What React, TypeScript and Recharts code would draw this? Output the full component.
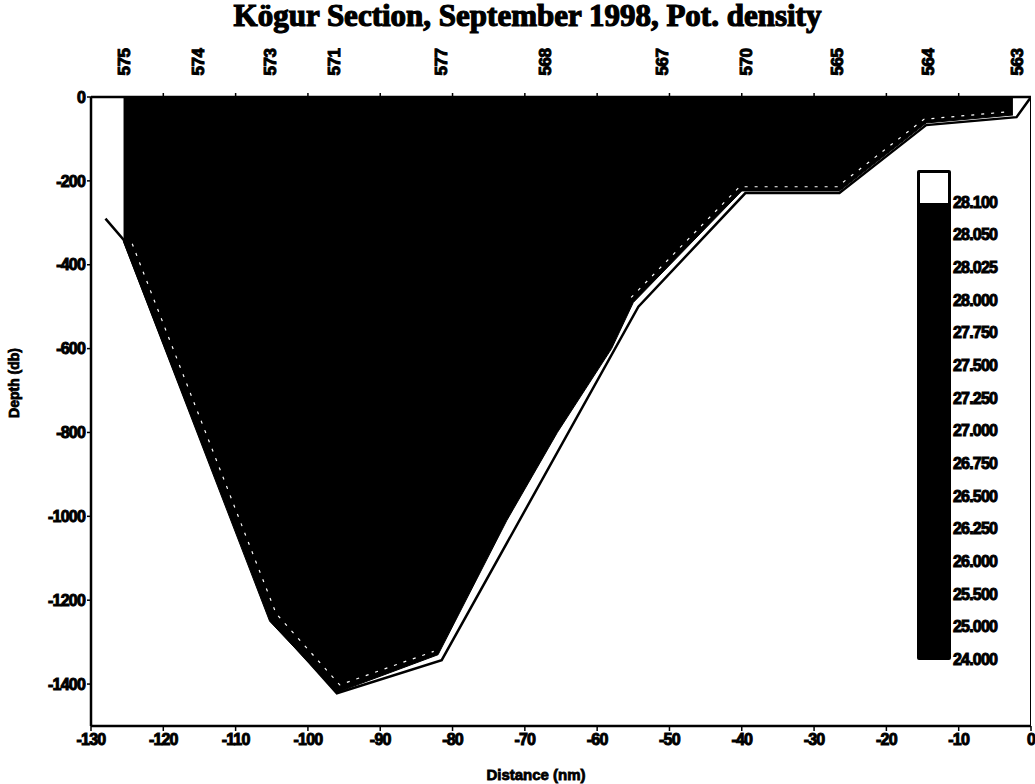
import React from 'react';
import { ComposedChart, Area, Line, XAxis, YAxis, Legend, Label } from 'recharts';

const TITLE = 'Kögur Section, September 1998, Pot. density';
const X_LABEL = 'Distance (nm)';
const Y_LABEL = 'Depth (db)';

const xTicks = [-130, -120, -110, -100, -90, -80, -70, -60, -50, -40, -30, -20, -10, 0];
const yTicks = [0, -200, -400, -600, -800, -1000, -1200, -1400];

const stationNames = ['575', '574', '573', '571', '577', '568', '567', '570', '565', '564', '563'];
const stationDist = [-125.3, -115.2, -105.2, -96.3, -81.5, -67.2, -51.0, -39.3, -26.8, -14.2, -1.9];
const topMinorTicks = [-120, -110, -100, -90, -80, -70, -60, -50, -40, -30, -20, -10];

// sea floor line
const bottomDist = [-128, -125.5, -105, -96, -81.5, -54.3, -39.5, -26.5, -14.5, -2, 0];
const bottomDepth = [-290, -340, -1248, -1422, -1343, -500, -229, -229, -67, -48, 0];

// filled contour region (density class)
const fillDist = [-125.5, -105.3, -96, -82, -72.5, -65.5, -58, -55, -40, -26.5, -14.5, -2.5];
const fillDepth = [-345, -1250, -1420, -1330, -1010, -800, -600, -490, -224, -224, -62, -43];

// contour line (white dashed) inside the fill
const contourDist = [-124.3, -104.4, -95.6, -82.6, null, -55.3, -40.3, -26.8, -14.8, -3];
const contourDepth = [-350, -1232, -1402, -1322, null, -478, -214, -214, -53, -35];

const legendLevels = ['28.100', '28.050', '28.025', '28.000', '27.750', '27.500', '27.250', '27.000', '26.750', '26.500', '26.250', '26.000', '25.500', '25.000', '24.000'];

const bottomData = bottomDist.map((x, i) => ({ x, y: bottomDepth[i] }));
const fillData = fillDist.map((x, i) => ({ x, y: fillDepth[i] }));
const contourData = contourDist.map((x, i) => ({ x: x === null ? -70 : x, y: contourDepth[i] }));
const topTicks = [...stationDist, ...topMinorTicks].sort((a, b) => a - b);

const FONT = '"Liberation Sans", Arial, sans-serif';
const PLOT_TOP = 97;

const TopTick = (props: any) => {
  const { x, payload } = props;
  const idx = stationDist.indexOf(payload.value);
  if (idx >= 0) {
    return (
      <text
        transform={`translate(${x},62) rotate(-90)`}
        textAnchor="middle"
        dominantBaseline="central"
        fontFamily={FONT}
        fontWeight="bold"
        fontSize={17}
        letterSpacing={-0.5}
        fill="#000"
        stroke="#000"
        strokeWidth={1}
      >
        {stationNames[idx]}
      </text>
    );
  }
  return <line x1={x} x2={x} y1={PLOT_TOP} y2={PLOT_TOP - 4} stroke="#000" strokeWidth={1.5} />;
};

const BAND_H = 490 / 15;

const renderLegend = () => (
  <div style={{ position: 'relative', width: 118, height: 500 }}>
    <div
      style={{
        position: 'absolute',
        left: 0,
        top: 0,
        width: 34,
        height: 490,
        border: '2px solid #000',
        boxSizing: 'border-box',
        background: '#000',
        borderRadius: 2,
      }}
    >
      <div style={{ position: 'absolute', left: 1, top: 1, width: 28, height: BAND_H - 3, background: '#fff' }} />
    </div>
    {legendLevels.map((lab, i) => (
      <div
        key={lab}
        style={{
          position: 'absolute',
          left: 36,
          top: (i + 1) * BAND_H - 9,
          fontFamily: FONT,
          fontWeight: 'bold',
          fontSize: 16,
          lineHeight: '18px',
          letterSpacing: -0.8,
          color: '#000',
          WebkitTextStroke: '1px #000',
        }}
      >
        {lab}
      </div>
    ))}
  </div>
);

const tickStyle = { fill: '#000', fontFamily: FONT, fontWeight: 'bold', fontSize: 16, stroke: '#000', strokeWidth: 1, letterSpacing: -0.8 };

export default function App() {
  return (
    <div style={{ position: 'absolute', left: 0, top: 0, width: 1035, height: 784, background: '#fff' }}>
      <div
        style={{
          position: 'absolute',
          left: 0,
          top: -2,
          width: 1055,
          textAlign: 'center',
          fontFamily: '"Liberation Serif", "Times New Roman", serif',
          fontWeight: 'bold',
          fontSize: 31,
          lineHeight: '36px',
          color: '#000',
          WebkitTextStroke: '1.2px #000',
          zIndex: 2,
        }}
      >
        {TITLE}
      </div>
      <ComposedChart width={1035} height={784} margin={{ top: 0, right: 4, bottom: 0, left: 0 }}>
        <XAxis
          xAxisId="bottom"
          dataKey="x"
          type="number"
          domain={[-130, 0]}
          ticks={xTicks}
          interval={0}
          allowDataOverflow
          height={58}
          tickSize={5}
          tickMargin={3}
          axisLine={{ stroke: '#000', strokeWidth: 2.5 }}
          tickLine={{ stroke: '#000', strokeWidth: 1.5 }}
          tick={tickStyle}
        >
          <Label
            content={() => (
              <text x={536} y={780} textAnchor="middle" fontFamily={FONT} fontWeight="bold" fontSize={15} fill="#000" stroke="#000" strokeWidth={0.8}>
                {X_LABEL}
              </text>
            )}
          />
        </XAxis>
        <XAxis
          xAxisId="top"
          orientation="top"
          dataKey="x"
          type="number"
          domain={[-130, 0]}
          ticks={topTicks}
          interval={0}
          allowDataOverflow
          height={97}
          tickLine={false}
          axisLine={{ stroke: '#000', strokeWidth: 2.5 }}
          tick={<TopTick />}
        />
        <YAxis
          yAxisId="depth"
          type="number"
          domain={[-1500, 0]}
          ticks={yTicks}
          interval={0}
          allowDataOverflow
          width={91}
          tickSize={4}
          tickMargin={2}
          axisLine={{ stroke: '#000', strokeWidth: 2.5 }}
          tickLine={{ stroke: '#000', strokeWidth: 1.5 }}
          tick={tickStyle}
        >
          <Label
            content={() => (
              <text
                transform="translate(14,383) rotate(-90)"
                textAnchor="middle"
                dominantBaseline="central"
                fontFamily={FONT}
                fontWeight="bold"
                fontSize={14}
                fill="#000"
                stroke="#000"
                strokeWidth={0.8}
              >
                {Y_LABEL}
              </text>
            )}
          />
        </YAxis>
        <Area
          xAxisId="bottom"
          yAxisId="depth"
          data={fillData}
          dataKey="y"
          type="linear"
          baseValue={0}
          fill="#000"
          fillOpacity={1}
          stroke="#000"
          strokeWidth={1}
          isAnimationActive={false}
          dot={false}
          activeDot={false}
        />
        <Line
          xAxisId="top"
          yAxisId="depth"
          data={contourData}
          dataKey="y"
          type="linear"
          stroke="#fff"
          strokeWidth={1.2}
          strokeDasharray="3 7"
          connectNulls={false}
          dot={false}
          activeDot={false}
          isAnimationActive={false}
        />
        <Line
          xAxisId="bottom"
          yAxisId="depth"
          data={bottomData}
          dataKey="y"
          type="linear"
          stroke="#000"
          strokeWidth={2.5}
          dot={false}
          activeDot={false}
          isAnimationActive={false}
        />
        <Line
          xAxisId="bottom"
          yAxisId="depth"
          data={[{ x: 0, y: 0 }, { x: 0, y: -1500 }]}
          dataKey="y"
          stroke="#000"
          strokeWidth={2}
          dot={false}
          activeDot={false}
          isAnimationActive={false}
        />
        <Legend
          layout="vertical"
          align="center"
          verticalAlign="middle"
          content={renderLegend}
          wrapperStyle={{ position: 'absolute', left: 917, top: 170, width: 118, height: 500 }}
        />
      </ComposedChart>
    </div>
  );
}
